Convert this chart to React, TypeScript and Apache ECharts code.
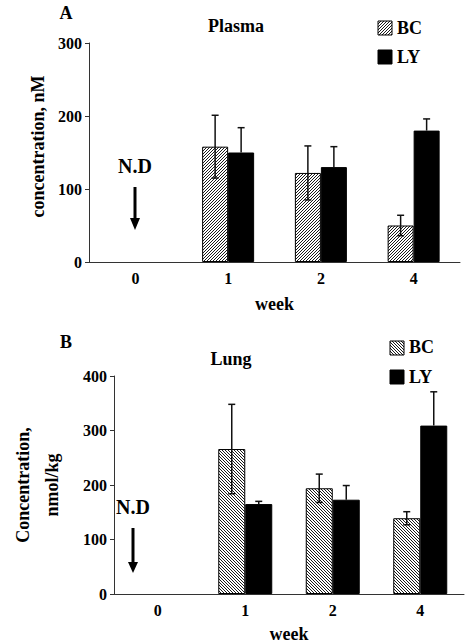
import React, { useEffect, useRef } from "react";
import * as echarts from "echarts";

const weeks = ["0", "1", "2", "4"];
// Panel A: Plasma (nM)
const plasmaBC = [null, 158, 122, 50];
const plasmaBCsd = [null, 43, 37, 14];
const plasmaLY = [null, 150, 130, 180];
const plasmaLYsd = [null, 34, 28, 16];
// Panel B: Lung (nmol/kg)
const lungBC = [null, 266, 194, 139];
const lungBCsd = [null, 82, 26, 12];
const lungLY = [null, 165, 173, 309];
const lungLYsd = [null, 5, 26, 62];

const FONT = '"Liberation Serif", "Times New Roman", serif';

function makeHatch(forward: boolean) {
  const s = 3;
  const c = document.createElement("canvas");
  c.width = s;
  c.height = s;
  const ctx = c.getContext("2d")!;
  ctx.fillStyle = "#fff";
  ctx.fillRect(0, 0, s, s);
  ctx.strokeStyle = "#000";
  ctx.lineWidth = 0.9;
  ctx.beginPath();
  for (const k of [-s, 0, s]) {
    if (forward) {
      ctx.moveTo(k - 1, s + 1);
      ctx.lineTo(k + s + 1, -1);
    } else {
      ctx.moveTo(k - 1, -1);
      ctx.lineTo(k + s + 1, s + 1);
    }
  }
  ctx.stroke();
  return c;
}

function errSeries(
  name: string,
  gridIdx: number,
  means: (number | null)[],
  sds: (number | null)[],
  offset: number,
  both: boolean
) {
  const data: any[] = [];
  means.forEach((m, i) => {
    if (m != null && sds[i] != null) data.push([i, m, m - (sds[i] as number), m + (sds[i] as number)]);
  });
  return {
    type: "custom",
    name,
    xAxisIndex: gridIdx,
    yAxisIndex: gridIdx,
    z: 10,
    data,
    renderItem: (params: any, api: any) => {
      const cx = api.coord([api.value(0), 0])[0] + offset;
      const mean = api.coord([api.value(0), api.value(1)])[1];
      const lo = api.coord([api.value(0), api.value(2)])[1];
      const hi = api.coord([api.value(0), api.value(3)])[1];
      const cap = 3.5;
      const st = { stroke: "#111", lineWidth: 1.5 };
      const children: any[] = [
        { type: "line", shape: { x1: cx, y1: both ? lo : mean, x2: cx, y2: hi }, style: st },
        { type: "line", shape: { x1: cx - cap, y1: hi, x2: cx + cap, y2: hi }, style: st },
      ];
      if (both) children.push({ type: "line", shape: { x1: cx - cap, y1: lo, x2: cx + cap, y2: lo }, style: st });
      return { type: "group", children };
    },
  };
}

function arrow(x: number, yText: number, y0: number, yHead: number, yTip: number) {
  return [
    {
      type: "text",
      x,
      y: yText,
      style: { text: "N.D", fontFamily: FONT, fontWeight: "bold", fontSize: 20, fill: "#000", align: "center", verticalAlign: "middle" },
    },
    { type: "line", shape: { x1: x, y1: y0, x2: x, y2: yHead + 1 }, style: { stroke: "#000", lineWidth: 3 } },
    { type: "polygon", shape: { points: [[x - 5, yHead], [x + 5, yHead], [x, yTip]] }, style: { fill: "#000" } },
  ];
}

export default function App() {
  const ref = useRef<HTMLDivElement>(null);
  useEffect(() => {
    if (!ref.current) return;
    const chart = echarts.init(ref.current, undefined, { renderer: "svg" });
    const hatchA = { image: makeHatch(true), repeat: "repeat" };
    const hatchB = { image: makeHatch(false), repeat: "repeat" };

    const xAxisBase = (gridIndex: number, gap: number) => ({
      type: "category",
      gridIndex,
      data: weeks,
      boundaryGap: true,
      axisLine: { lineStyle: { color: "#333", width: 1 } },
      axisTick: { inside: true, length: 5, lineStyle: { color: "#333" } },
      axisLabel: { fontFamily: FONT, fontWeight: "bold", fontSize: 16, color: "#000", margin: 8 },
      name: "week",
      nameLocation: "middle",
      nameGap: gap,
      nameTextStyle: { fontFamily: FONT, fontWeight: "bold", fontSize: 18, color: "#000" },
    });
    const yAxisBase = (gridIndex: number, max: number) => ({
      type: "value",
      gridIndex,
      min: 0,
      max,
      interval: 100,
      splitLine: { show: false },
      axisLine: { show: true, lineStyle: { color: "#333", width: 1 } },
      axisTick: { show: true, inside: false, length: 4, lineStyle: { color: "#333" } },
      axisLabel: { fontFamily: FONT, fontWeight: "bold", fontSize: 16, color: "#000", margin: 7 },
    });
    const textStyle = (text: string, x: number, y: number, size: number, align = "center") => ({
      type: "text",
      x,
      y,
      style: { text, fontFamily: FONT, fontWeight: "bold", fontSize: size, fill: "#000", align, verticalAlign: "middle" },
    });
    const legendBox = (x: number, y: number, fill: any) => ({
      type: "rect",
      shape: { x, y, width: 14, height: 14 },
      style: { fill, stroke: "#000", lineWidth: 1 },
    });

    chart.setOption({
      animation: false,
      backgroundColor: "#fff",
      grid: [
        { left: 89, top: 43, width: 371, height: 219 },
        { left: 88, top: 376, width: 376, height: 220 },
      ],
      xAxis: [xAxisBase(0, 33), xAxisBase(1, 31)],
      yAxis: [
        {
          ...yAxisBase(0, 300),
          name: "concentration, nM",
          nameLocation: "middle",
          nameRotate: 90,
          nameGap: 41,
          nameTextStyle: { fontFamily: FONT, fontWeight: "bold", fontSize: 18, color: "#000", padding: [0, 0, 0, 12] },
        },
        {
          ...yAxisBase(1, 400),
          name: "Concentration,\nnmol/kg",
          nameLocation: "middle",
          nameRotate: 90,
          nameGap: 48,
          nameTextStyle: { fontFamily: FONT, fontWeight: "bold", fontSize: 18, color: "#000", lineHeight: 29 },
        },
      ],
      series: [
        {
          type: "bar", name: "BC", xAxisIndex: 0, yAxisIndex: 0, data: plasmaBC, barWidth: 26, barGap: "0%",
          itemStyle: { color: hatchA, borderColor: "#000", borderWidth: 1 },
        },
        {
          type: "bar", name: "LY", xAxisIndex: 0, yAxisIndex: 0, data: plasmaLY, barWidth: 26, barGap: "0%",
          itemStyle: { color: "#000", borderColor: "#000", borderWidth: 1 },
        },
        {
          type: "bar", name: "BC ", xAxisIndex: 1, yAxisIndex: 1, data: lungBC, barWidth: 27, barGap: "0%",
          itemStyle: { color: hatchB, borderColor: "#000", borderWidth: 1 },
        },
        {
          type: "bar", name: "LY ", xAxisIndex: 1, yAxisIndex: 1, data: lungLY, barWidth: 27, barGap: "0%",
          itemStyle: { color: "#000", borderColor: "#000", borderWidth: 1 },
        },
        errSeries("errBCA", 0, plasmaBC, plasmaBCsd, -13, true),
        errSeries("errLYA", 0, plasmaLY, plasmaLYsd, 13, false),
        errSeries("errBCB", 1, lungBC, lungBCsd, -13.5, true),
        errSeries("errLYB", 1, lungLY, lungLYsd, 13.5, false),
      ],
      graphic: [
        textStyle("A", 66, 13, 18),
        textStyle("Plasma", 236, 26, 18),
        legendBox(378, 21, hatchA),
        textStyle("BC", 397, 28, 18, "left"),
        legendBox(378, 50, "#000"),
        textStyle("LY", 397, 57, 18, "left"),
        ...arrow(135, 166, 187, 218, 230),
        textStyle("B", 66, 342, 18),
        textStyle("Lung", 231, 359, 18),
        legendBox(390, 341, hatchB),
        textStyle("BC", 409, 347, 18, "left"),
        legendBox(390, 370, "#000"),
        textStyle("LY", 409, 377, 18, "left"),
        ...arrow(133, 507, 528, 562, 573),
      ],
    });
    return () => chart.dispose();
  }, []);
  return <div ref={ref} style={{ position: "fixed", left: 0, top: 0, width: 466, height: 644 }} />;
}
